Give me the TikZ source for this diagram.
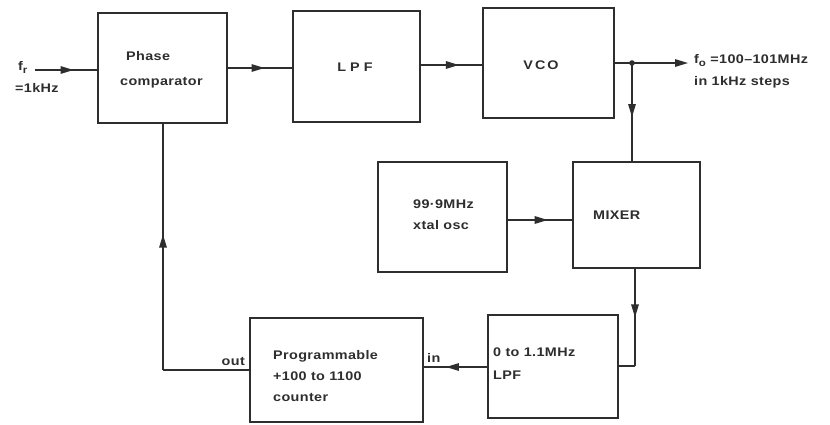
\documentclass[tikz,border=0pt]{standalone}
\usepackage{fontspec}
\setmainfont{Liberation Sans}[FakeStretch=1.15,LetterSpace=3]
\usetikzlibrary{decorations.markings,arrows.meta}
\definecolor{ink}{HTML}{2e2e2e}
\tikzset{
  box/.style={draw=ink, line width=1.6pt, fill=none, inner sep=0pt},
  txt/.style={text=ink, inner sep=0pt, align=left},
  wire/.style={draw=ink, line width=1.4pt},
  midarrow/.style={postaction={decorate},decoration={markings,
     mark=at position #1 with {\arrow{Triangle[length=13pt,width=7.5pt]}}}},
  endarrow/.style={-{Triangle[length=13pt,width=7.5pt]}},
}
\begin{document}
\begin{tikzpicture}[x=1pt,y=-1pt,font=\bfseries\fontsize{12.5}{21}\selectfont]
\useasboundingbox (0,0) rectangle (830,424);
\fill[white] (0,0) rectangle (830,424);
% boxes
\node[box, minimum width=129pt, minimum height=110pt] (pc) at (162.5,68) {};
\node[box, minimum width=127pt, minimum height=111pt] (lpf) at (356.5,66.5) {};
\node[box, minimum width=131pt, minimum height=110pt] (vco) at (548.5,63) {};
\node[box, minimum width=129pt, minimum height=110pt] (xtal) at (442.5,217) {};
\node[box, minimum width=127pt, minimum height=106pt] (mix) at (636.5,215) {};
\node[box, minimum width=130pt, minimum height=103pt] (lpfb) at (553,366.5) {};
\node[box, minimum width=173pt, minimum height=104pt] (cnt) at (336.5,370) {};
% box texts
\node[txt, anchor=west, font=\bfseries\fontsize{12.5}{25}\selectfont] (pct) at (120,70) {\hspace{6pt}Phase\\comparator};
\node[txt] (lpft) at (355,67) {L\hspace{4pt}P\hspace{4pt}F};
\node[txt] (vcot) at (541,65) {V\hspace{2pt}C\hspace{2pt}O};
\node[txt, anchor=west] (xtalt) at (413,215) {99·9MHz\\xtal osc};
\node[txt, anchor=west] (mixt) at (593,215) {MIXER};
\node[txt, anchor=west, font=\bfseries\fontsize{12.5}{23}\selectfont] (lpfbt) at (493,364) {0 to 1.1MHz\\LPF};
\node[txt, anchor=west] (cntt) at (273,376) {Programmable\\+100 to 1100\\counter};
% port labels
\node[txt, anchor=east] (outl) at (245,361) {out};
\node[txt, anchor=west] (inl) at (427,358) {in};
% input / output labels
\node[txt, anchor=west] (fr) at (18,67) {f\raisebox{-3pt}{\fontsize{10}{10}\selectfont r}};
\node[txt, anchor=west] (frv) at (15,88) {=1kHz};
\node[txt, anchor=west] (fo) at (694,61) {f\raisebox{-3pt}{\fontsize{10}{10}\selectfont o} =100–101MHz};
\node[txt, anchor=west] (fov) at (694,82) {in 1kHz steps};
% coordinates
\coordinate (inS) at (35,70);
\coordinate (J) at (632,63);
\coordinate (outE) at (688,63);
\coordinate (c1) at (635,366);
\coordinate (c2) at (163,370);
% connectors
\draw[wire, midarrow=0.62] (inS) -- (inS -| pc.west);
\draw[wire, midarrow=0.57] (pc.east |- 0,68) -- (lpf.west |- 0,68);
\draw[wire, midarrow=0.62] (lpf.east |- 0,65) -- (vco.west |- 0,65);
\draw[wire] (vco.east) -- (J);
\draw[wire, endarrow] (J) -- (outE);
\fill[ink] (J) circle (2.8pt);
\draw[wire, midarrow=0.55] (J) -- (J |- mix.north);
\draw[wire, midarrow=0.62] (xtal.east |- 0,220) -- (mix.west |- 0,220);
\draw[wire, midarrow=0.5] (c1 |- mix.south) -- (c1);
\draw[wire] (c1) -- (c1 -| lpfb.east);
\draw[wire, midarrow=0.65] (lpfb.west |- 0,367) -- (cnt.east |- 0,367);
\draw[wire] (cnt.west |- c2) -- (c2);
\draw[wire, midarrow=0.55] (c2) -- (c2 |- pc.south);
\end{tikzpicture}
\end{document}
